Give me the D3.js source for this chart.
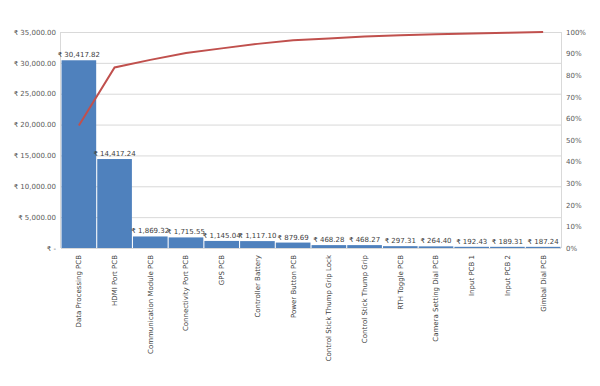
<!DOCTYPE html>
<html><head><meta charset="utf-8">
<script src="https://cdn.jsdelivr.net/npm/d3@7"></script>
<style>body{margin:0;background:#fff}svg{display:block}text{font-family:"DejaVu Sans",sans-serif}</style>
</head><body><svg id="c" width="600" height="386"></svg>
<script>
const categories = ["Data Processing PCB","HDMI Port PCB","Communication Module PCB","Connectivity Port PCB","GPS PCB","Controller Battery","Power Button PCB","Control Stick Thump Grip Lock","Control Stick Thump Grip","RTH  Toggle PCB","Camera Setting Dial PCB","Input PCB 1","Input PCB 2","Gimbal Dial PCB"];
const values = [30417.82,14417.24,1869.32,1715.55,1145.04,1117.10,879.69,468.28,468.27,297.31,264.40,192.43,189.31,187.24];
const leftTicks = [0,5000,10000,15000,20000,25000,30000,35000];
const rightTicks = [0,0.1,0.2,0.3,0.4,0.5,0.6,0.7,0.8,0.9,1.0];

const total = d3.sum(values);
let run = 0;
const cumPct = values.map(v => (run += v) / total);

const svg = d3.select("#c");
const L = 61, R = 561, T = 32, B = 248;
const x = d3.scaleBand().domain(categories).range([L, R]).paddingInner(0.03).paddingOuter(0.015);
const y = d3.scaleLinear().domain([0, 35000]).range([B, T]);
const y2 = d3.scaleLinear().domain([0, 1]).range([B, T]);

// gridlines
svg.append("g").selectAll("line").data(leftTicks.filter(d=>d>0)).join("line")
  .attr("x1", L).attr("x2", R).attr("y1", d=>y(d)+0.5).attr("y2", d=>y(d)+0.5)
  .attr("stroke", "#d9d9d9").attr("stroke-width", 1);
// plot border right & left
svg.append("line").attr("x1", R+0.5).attr("x2", R+0.5).attr("y1", T).attr("y2", B).attr("stroke", "#d9d9d9");
svg.append("line").attr("x1", L-0.5).attr("x2", L-0.5).attr("y1", T).attr("y2", B).attr("stroke", "#d9d9d9");

const fmt = d3.format(",.2f");
const money = d => d === 0 ? "₹ -" : "₹ " + fmt(d);

// bars
svg.append("g").selectAll("rect").data(values).join("rect")
  .attr("x", (d,i)=>x(categories[i])).attr("width", x.bandwidth())
  .attr("y", d=>y(d)).attr("height", d=>B - y(d)).attr("fill", "#4f81bd");

// baseline
svg.append("line").attr("x1", L).attr("x2", R).attr("y1", B+0.5).attr("y2", B+0.5).attr("stroke", "#d9d9d9");

// data labels
svg.append("g").selectAll("text").data(values).join("text")
  .attr("x", (d,i)=>x(categories[i]) + x.bandwidth()/2)
  .attr("y", d=>y(d) - 3)
  .attr("text-anchor", "middle").attr("font-size", 7).attr("fill", "#404040")
  .text(d=>money(d));

// line
const line = d3.line().x((d,i)=>x(categories[i]) + x.bandwidth()/2).y(d=>y2(d));
svg.append("path").datum(cumPct).attr("d", line).attr("fill", "none")
  .attr("stroke", "#c0504d").attr("stroke-width", 2);

// left axis
const ga = svg.append("g").attr("transform", `translate(${L-5},0)`)
  .call(d3.axisLeft(y).tickValues(leftTicks).tickFormat(money).tickSize(0).tickPadding(0));
ga.select(".domain").remove();
ga.selectAll("text").attr("font-size", 7).attr("fill", "#595959").attr("font-family", "DejaVu Sans");

// right axis
const gr = svg.append("g").attr("transform", `translate(${R+5},0)`)
  .call(d3.axisRight(y2).tickValues(rightTicks).tickFormat(d3.format(".0%")).tickSize(0).tickPadding(0));
gr.select(".domain").remove();
gr.selectAll("text").attr("font-size", 7).attr("fill", "#595959").attr("font-family", "DejaVu Sans");

// x axis labels
const gx = svg.append("g").attr("transform", `translate(0,${B})`)
  .call(d3.axisBottom(x).tickSize(0).tickPadding(0));
gx.select(".domain").remove();
gx.selectAll("text").attr("font-size", 7).attr("fill", "#404040").attr("font-family", "DejaVu Sans")
  .attr("text-anchor", "end").attr("dy", "0.35em")
  .attr("transform", "translate(0,7) rotate(-90)").attr("x", 0).attr("y", 0);
</script></body></html>
